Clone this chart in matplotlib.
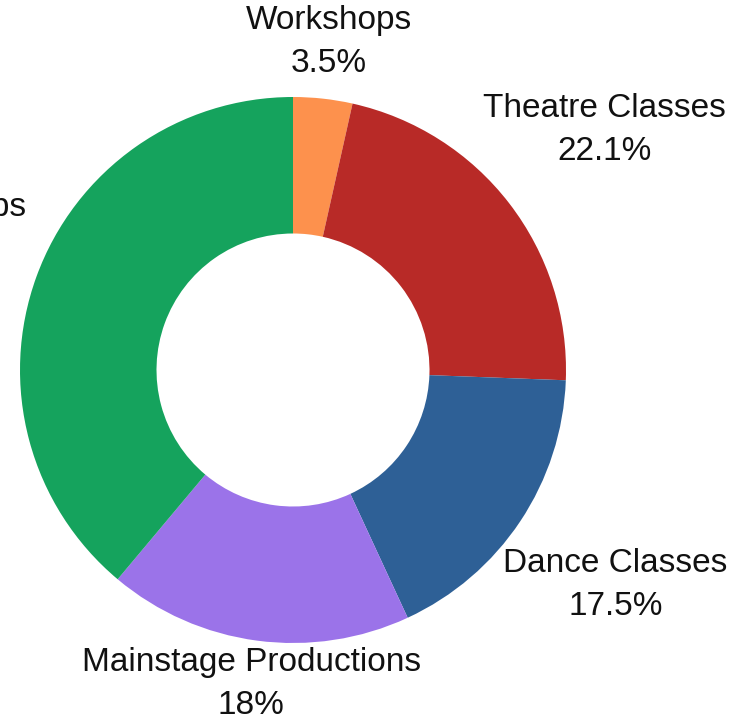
import numpy as np
import matplotlib.pyplot as plt

# data
labels = ["Workshops", "Theatre Classes", "Dance Classes", "Mainstage Productions", "Summer Camps"]
values = [3.5, 22.1, 17.5, 18, 38.9]
colors = ["#FD914D", "#B82A27", "#2E6096", "#9B73E9", "#15A35D"]
label_dist = [1.21, 1.44, 1.42, 1.16, 1.51]

plt.rcParams['font.family'] = ['Liberation Sans', 'DejaVu Sans']

fig = plt.figure(figsize=(7.38, 7.28), dpi=100)
ax = fig.add_axes([0, 0, 1, 1])

wedges, _ = ax.pie(values, colors=colors, startangle=90, counterclock=False,
                   radius=1, wedgeprops=dict(width=0.5, linewidth=0))

for w, lab, v, d in zip(wedges, labels, values, label_dist):
    ang = np.deg2rad((w.theta1 + w.theta2) / 2)
    x, y = d * np.cos(ang), d * np.sin(ang)
    ax.text(x, y, f"{lab}\n{v:g}%", ha='center', va='center', fontsize=24,
            color='#111111', linespacing=1.5)

# pie centre at (293, 370) px, radius 273 px
R = 273
ax.set_aspect('auto')
ax.set_xlim(-293 / R, (738 - 293) / R)
ax.set_ylim(-(728 - 370) / R, 370 / R)
ax.axis('off')

fig.savefig("out.png", dpi=100)
